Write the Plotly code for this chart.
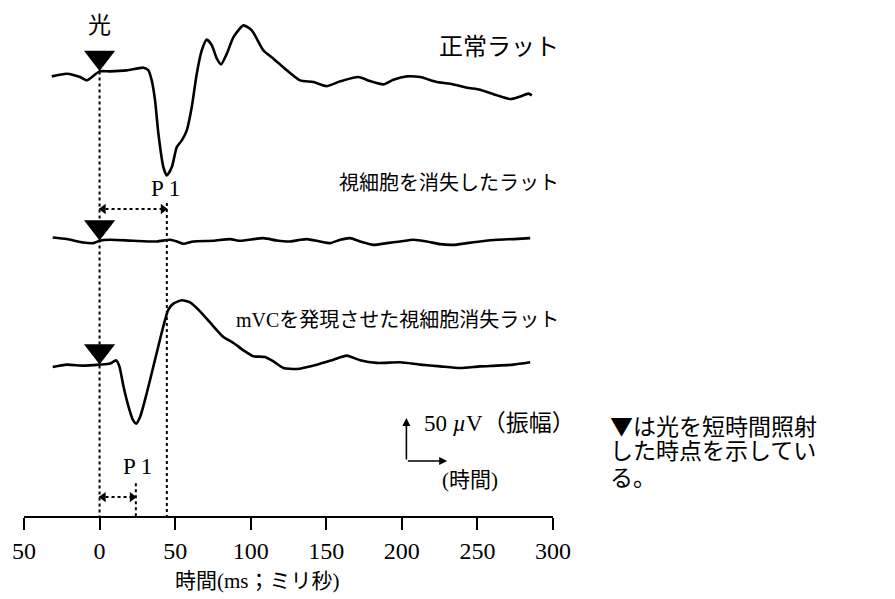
import plotly.graph_objects as go

# ---- data (time in ms, amplitude in µV relative to each trace's baseline) ----
normal_t = [-31.6, -21.7, -12.9, -8.5, 0, 6.9, 18.0, 29.0, 32.3, 34.5, 36.7, 38.9, 42.2, 44.5, 47.8,
            51.1, 54.4, 57.7, 61.0, 64.3, 67.6, 70.9, 74.3, 77.6, 80.4, 84.2, 88.6, 95.2, 100.7,
            108.4, 115.0, 123.9, 132.7, 141.5, 150.4, 159.2, 171.3, 179.0, 187.8, 194.4, 203.3,
            212.1, 223.2, 232.0, 243.0, 251.8, 262.9, 271.7, 278.3, 283.8, 286.0]
normal_v = [-5.8, -2.7, -6.6, -10.5, 0, 0, 1.2, 4.3, 1.2, -10.5, -33.7, -72.1, -111.3, -121, -111.3,
            -88, -80.2, -68.6, -41.5, -2.7, 24.4, 36.9, 30.2, 14.8, 8.1, 20.6, 39.9, 53.5, 47.7,
            24.4, 14.8, 1.2, -10.5, -12.4, -17.1, -11.6, -6.6, -11.3, -15.1, -9.7, -5.8,
            -6.6, -12.4, -14.3, -19, -21.3, -27.9, -32.2, -29.1, -25.9, -27.9]

degen_t = [-31.0, -21.7, -10.7, -4.1, 0, 6.9, 22.4, 37.9, 46.7, 51.1, 55.5, 62.1, 75.3, 86.4, 93.0,
           108.4, 117.3, 126.1, 132.7, 137.1, 145.9, 152.5, 159.2, 165.8, 172.4, 181.2, 190.1,
           198.9, 207.7, 216.5, 225.3, 234.1, 243.0, 251.8, 262.9, 273.9, 284.9]
degen_v = [3.8, 2.0, -2.0, -2.7, 0, 1.2, 0, -0.8, 1.2, -0.8, -3.5, -0.8, 0, 2.0, 0,
           3.1, 0.3, -0.8, 1.2, 2.0, -0.8, -2.7, 1.2, 3.1, -0.8, -4.7, -2.7,
           -0.8, 1.2, -0.8, -3.9, -4.7, -2.7, -0.8, 1.2, 2.0, 3.1]

mvc_t = [-31.0, -21.7, -10.7, 0, 6.9, 10.9, 13.1, 15.8, 19.1, 22.0, 24.2, 26.8, 31.2, 36.7, 42.2,
         45.5, 48.8, 54.4, 59.9, 66.5, 75.3, 81.9, 88.6, 95.2, 101.8, 109.5, 115.0, 121.6, 130.5,
         143.7, 154.7, 163.6, 172.4, 183.4, 198.9, 212.1, 225.3, 238.6, 251.8, 262.9, 273.9, 284.9]
mvc_v = [-2.7, 0, -1.2, 0, 1.2, 5.0, -2.0, -25.2, -48.5, -64, -68.6, -60.9, -33.3, 5.8, 44.6,
         64.0, 71.0, 74.8, 72.4, 62.0, 44.6, 32.2, 25.2, 16.6, 9.7, 9.0, 3.8, -3.8, -5.0,
         0, 5.8, 10.5, 5.0, 2.0, 2.7, 0, -2.0, -3.9, -2.0, -1.2, 0, 2.7]

trace_names = ["正常ラット", "視細胞を消失したラット", "mVCを発現させた視細胞消失ラット"]
p1_normal = 44.5   # ms
p1_mvc = 24.0      # ms
stim_t = 0
tick_vals = [-50, 0, 50, 100, 150, 200, 250, 300]
tick_text = ["50", "0", "50", "100", "150", "200", "250", "300"]
x_title = "時間(ms；ミリ秒)"
scale_uv = 50
note_lines = ["<span style=\"font-family:'Noto Sans CJK JP'\">▼</span>は光を短時間照射",
              "した時点を示してい", "る。"]

# ---- layout constants (vertical stacking offsets, µV) ----
off = [517, 320, 176]
FONT = "Liberation Serif, Noto Sans CJK JP, serif"

fig = go.Figure()

# dotted guide lines
dot = dict(color="black", width=2, dash="dot")
fig.add_trace(go.Scatter(x=[stim_t, stim_t], y=[off[0], 0], mode="lines", line=dot, hoverinfo="skip"))
fig.add_trace(go.Scatter(x=[p1_normal, p1_normal], y=[off[0] - 153, 0], mode="lines", line=dot, hoverinfo="skip"))
fig.add_trace(go.Scatter(x=[p1_mvc, p1_mvc], y=[off[2] - 138, 0], mode="lines", line=dot, hoverinfo="skip"))

# double-headed dotted arrows for latency
for (x1, yy) in [(p1_normal, off[0] - 160), (p1_mvc, off[2] - 154)]:
    fig.add_trace(go.Scatter(x=[stim_t, x1], y=[yy, yy], mode="lines",
                             line=dict(color="black", width=2, dash="dot"), hoverinfo="skip"))
    fig.add_trace(go.Scatter(x=[stim_t + 2.5, x1 - 2.5], y=[yy, yy], mode="markers",
                             marker=dict(symbol=["triangle-left", "triangle-right"], size=9, color="black"),
                             hoverinfo="skip"))

# waveforms
for t, v, o in [(normal_t, normal_v, off[0]), (degen_t, degen_v, off[1]), (mvc_t, mvc_v, off[2])]:
    fig.add_trace(go.Scatter(x=t, y=[o + a for a in v], mode="lines",
                             line=dict(color="black", width=2.6, shape="spline", smoothing=0.6),
                             hoverinfo="skip"))

# stimulus triangles (tip touching baseline)
fig.add_trace(go.Scatter(x=[stim_t] * 3, y=[o + 16 for o in off], mode="markers",
                         marker=dict(symbol="triangle-down", size=27, color="black"),
                         hoverinfo="skip"))

ann = []
def txt(x, y, s, size=21, xanchor="center", font=FONT, xref="x", yref="y", **kw):
    ann.append(dict(x=x, y=y, xref=xref, yref=yref, text=s, showarrow=False, xanchor=xanchor,
                    yanchor="middle", font=dict(family=font, size=size, color="black"), **kw))

txt(stim_t, 570, "光", size=23)
txt(1.016, 545, trace_names[0], xanchor="right", xref="paper", size=24)
txt(1.016, 387, trace_names[1], xanchor="right", xref="paper", size=20)
txt(1.016, 228, trace_names[2], xanchor="right", xref="paper", size=20)
txt(p1_normal - 1, 381, "P 1", size=23)
txt(p1_mvc + 1, 58, "P 1", size=23)
txt(213, 107, "50 <i>µ</i>V（振幅）", xanchor="left", size=23)
txt(225, 42, "(時間)", xanchor="left", size=21)
for i, line in enumerate(note_lines):
    txt(1.104, 0.179 - i * 0.0525, line, xanchor="left", xref="paper", yref="paper", size=23)
txt(0.442, -0.128, x_title, xref="paper", yref="paper", size=21)

# scale bar arrows
ann.append(dict(x=203, y=64 + scale_uv, ax=203, ay=64, xref="x", yref="y", axref="x", ayref="y",
                text="", showarrow=True, arrowhead=2, arrowsize=1, arrowwidth=1.6, arrowcolor="black"))
ann.append(dict(x=230, y=64, ax=203, ay=64, xref="x", yref="y", axref="x", ayref="y",
                text="", showarrow=True, arrowhead=2, arrowsize=1, arrowwidth=1.6, arrowcolor="black"))

# page has an 8px body margin; margins compensate so the plot lands where the reference has it
fig.update_layout(
    width=895, height=599,
    margin=dict(l=16, r=350, t=0, b=91, autoexpand=False),
    paper_bgcolor="white", plot_bgcolor="white",
    showlegend=False,
    annotations=ann,
    xaxis=dict(range=[-50, 300], tickvals=tick_vals, ticktext=tick_text, automargin=False,
               showline=True, linecolor="black", linewidth=2,
               ticks="outside", ticklen=12, tickwidth=2, tickcolor="black",
               showgrid=False, zeroline=False,
               tickfont=dict(family=FONT, size=24, color="black")),
    yaxis=dict(range=[0, 590.7], visible=False, showgrid=False, zeroline=False, automargin=False),
)
for tr in fig.data:
    tr.update(cliponaxis=False)

fig.write_html("out.html")
